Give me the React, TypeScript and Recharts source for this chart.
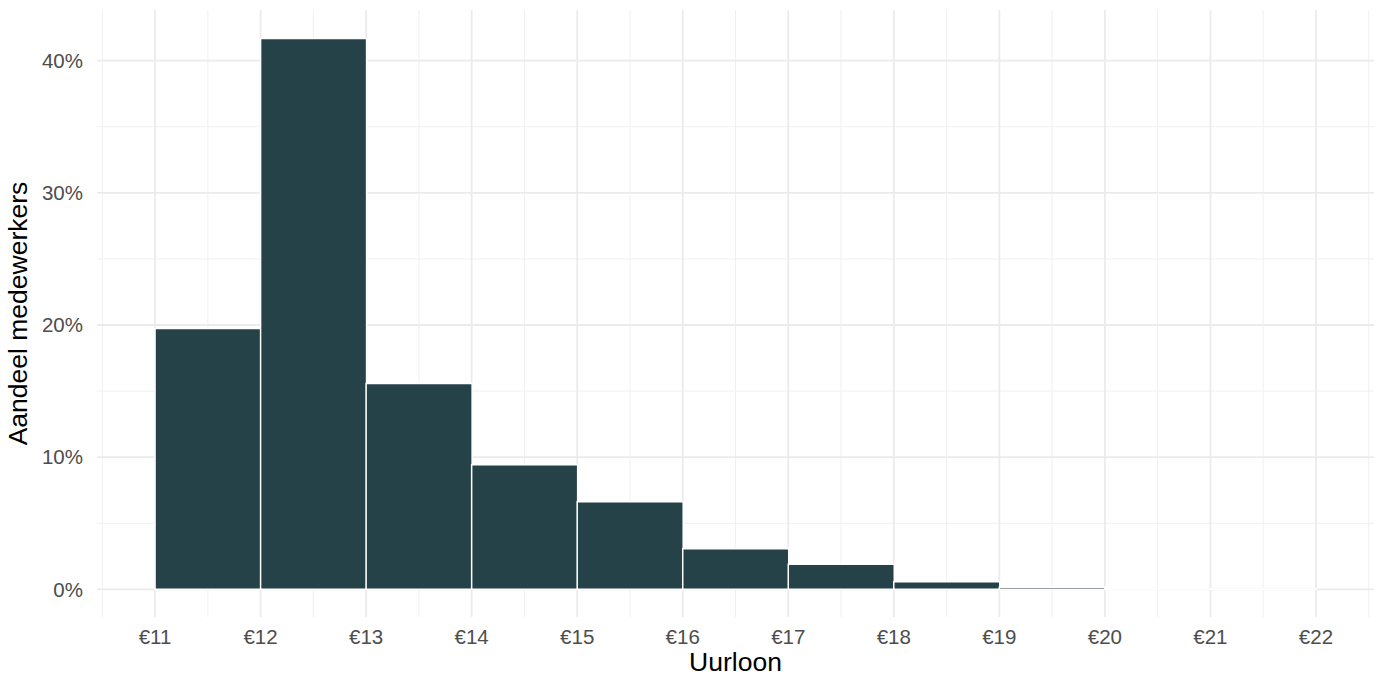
import { Bar, BarChart, CartesianGrid, XAxis, YAxis } from "recharts";

// hourly wage bins (lower edge, euro) and share of employees per bin (%)
const binStart = [11, 12, 13, 14, 15, 16, 17, 18, 19, 20, 21];
const share = [19.73, 41.68, 15.57, 9.43, 6.63, 3.07, 1.91, 0.57, 0.17, 0.03, 0.01];

const xTicks = [11, 12, 13, 14, 15, 16, 17, 18, 19, 20, 21, 22];
const xMinor = [10.5, 11.5, 12.5, 13.5, 14.5, 15.5, 16.5, 17.5, 18.5, 19.5, 20.5, 21.5, 22.5];
const yTicks = [0, 10, 20, 30, 40];
const yMinor = [5, 15, 25, 35];

const data = binStart.map((start, i) => ({ mid: start + 0.5, share: share[i] }));

const font = "'Liberation Sans', Arial, Helvetica, sans-serif";
const tickStyle = { fill: "#4d4d4d", fontSize: 20.5, fontFamily: font };
const titleStyle = { fill: "#000", fontSize: 26.5, fontFamily: font };

export default function App() {
  return (
    <div style={{ position: "absolute", left: 0, top: 0, width: 1381, height: 677, background: "#fff" }}>
      <BarChart
        width={1381}
        height={677}
        data={data}
        margin={{ top: 10, right: 7, bottom: 0, left: 0 }}
        barCategoryGap={0}
        barGap={0}
      >
        <CartesianGrid verticalValues={xMinor} horizontalValues={yMinor} stroke="#f0f0f0" strokeWidth={1} />
        <CartesianGrid verticalValues={xTicks} horizontalValues={yTicks} stroke="#ebebeb" strokeWidth={1.8} />
        <XAxis
          dataKey="mid"
          type="number"
          domain={[10.45, 22.55]}
          ticks={xTicks}
          interval={0}
          allowDataOverflow
          height={60}
          axisLine={false}
          tickLine={false}
          tickSize={0}
          tickMargin={12}
          tick={tickStyle}
          tickFormatter={(v: number) => `€${v}`}
          label={{ value: "Uurloon", position: "insideBottom", offset: 6, style: titleStyle }}
        />
        <YAxis
          type="number"
          domain={[-2.09, 43.83]}
          ticks={yTicks}
          interval={0}
          allowDataOverflow
          width={97}
          axisLine={false}
          tickLine={false}
          tickSize={0}
          tickMargin={14}
          tick={tickStyle}
          tickFormatter={(v: number) => `${v}%`}
          label={{
            value: "Aandeel medewerkers",
            angle: -90,
            position: "insideLeft",
            offset: 22,
            dx: -4,
            style: { ...titleStyle, textAnchor: "middle" },
          }}
        />
        <Bar dataKey="share" fill="#264249" stroke="#ffffff" strokeWidth={1.5} isAnimationActive={false} />
      </BarChart>
    </div>
  );
}
